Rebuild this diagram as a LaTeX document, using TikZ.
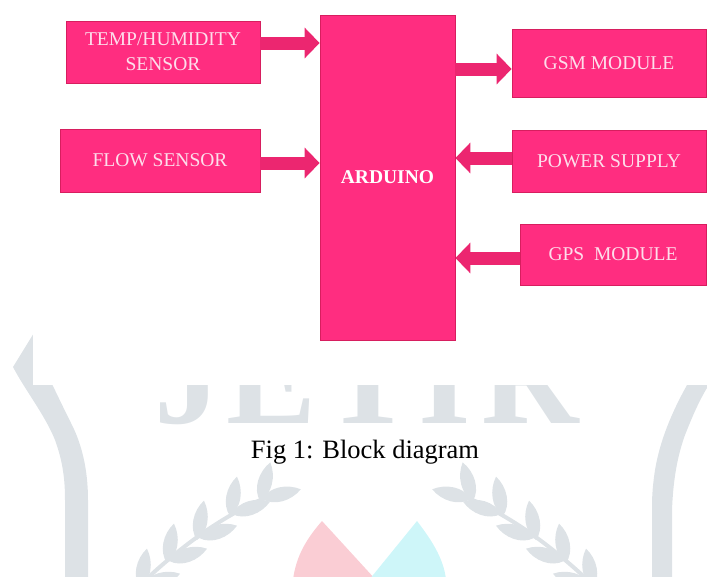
\documentclass[tikz,border=0pt]{standalone}
\usepackage{fontspec}
\setmainfont{Liberation Serif}
\usetikzlibrary{calc,arrows.meta}
\definecolor{pk}{RGB}{255,45,128}
\definecolor{pkd}{RGB}{215,30,95}
\definecolor{pka}{RGB}{236,38,112}
\definecolor{btxt}{RGB}{253,222,235}
\definecolor{wm}{RGB}{221,226,230}
\definecolor{dropp}{RGB}{250,205,212}
\definecolor{dropc}{RGB}{206,246,249}
\newcommand\wmleaf[3]{\fill[wm,shift={(#1,#2)},rotate=#3] (0pt,0pt) .. controls (10pt,10pt) and (28pt,9pt) .. (40pt,0pt) .. controls (28pt,-9pt) and (10pt,-10pt) .. (0pt,0pt);}
\tikzset{
  blk/.style={rectangle, fill=pk, draw=pkd, line width=0.8pt, inner sep=0pt, align=center,
    text=btxt, font=\fontsize{19.5}{25}\selectfont},
  arr/.style={draw=pka, line width=13pt, -{Triangle[width=30pt,length=15pt]}},
  wmletter/.style={anchor=base, text=wm, inner sep=0pt, font=\bfseries\fontsize{135}{135}\selectfont},
  captext/.style={font=\fontsize{26.5}{30}\selectfont, text=black, inner sep=0pt}
}
\begin{document}
\begin{tikzpicture}[x=1pt,y=-1pt]
\useasboundingbox (0,0) rectangle (707,576);
\clip (0,0) rectangle (707,576);
% ---- watermark ----
\fill[wm] (45,315) -- (13,367) .. controls (25,390) and (45,415) .. (55,440) .. controls (63,462) and (65,480) .. (65,500) -- (65,580) -- (88,580) -- (88,500) .. controls (88,470) and (82,445) .. (72,425) .. controls (62,405) and (55,390) .. (50,380) -- (55,315) -- cycle;
\fill[wm] (700,360) -- (687,385) .. controls (672,412) and (660,440) .. (655,470) .. controls (652,490) and (652,500) .. (652,510) -- (652,580) -- (672,580) -- (672,510) .. controls (673,485) and (676,460) .. (685,435) .. controls (693,415) and (700,398) .. (712,380) -- (712,360) -- cycle;
\node[wmletter] (wJ) at (188,423) {J};
\node[wmletter] (wE) at (272,423) {E};
\node[wmletter] (wT) at (369,423) {T};
\node[wmletter] (wI) at (445,423) {I};
\node[wmletter] (wR) at (530,423) {R};
% laurels
\draw[wm, line width=4pt] (130,595) .. controls (180,545) and (225,515) .. (265,498);
\wmleaf{140}{588}{80}\wmleaf{142}{586}{18}
\wmleaf{167}{563}{80}\wmleaf{169}{561}{18}
\wmleaf{197}{540}{80}\wmleaf{199}{538}{18}
\wmleaf{230}{516}{80}\wmleaf{232}{514}{18}
\wmleaf{260}{501}{75}\wmleaf{262}{499}{14}
\draw[wm, line width=4pt] (603,595) .. controls (553,545) and (508,515) .. (468,498);
\wmleaf{593}{588}{100}\wmleaf{591}{586}{162}
\wmleaf{566}{563}{100}\wmleaf{564}{561}{162}
\wmleaf{536}{540}{100}\wmleaf{534}{538}{162}
\wmleaf{503}{516}{100}\wmleaf{501}{514}{162}
\wmleaf{473}{501}{105}\wmleaf{471}{499}{166}
% drops
\fill[dropp] (322,521) .. controls (308,537) and (296,555) .. (293,580) -- (376,580) -- cycle;
\fill[dropc] (417,521) .. controls (430,538) and (444,558) .. (446,580) -- (369,580) -- cycle;
% white area of the diagram image
\fill[white] (33,-5) rectangle (712,385);
% ---- diagram ----
\node[blk, minimum width=194pt, minimum height=62pt] (t) at (163,52) {TEMP/HUMIDITY\\SENSOR};
\node[blk, minimum width=200pt, minimum height=63pt] (f) at (160,160.5) {FLOW SENSOR};
\node[blk, minimum width=135pt, minimum height=325pt, font=\bfseries\fontsize{19.5}{25}\selectfont, text=white] (ard) at (387.5,177.5) {ARDUINO};
\node[blk, minimum width=194pt, minimum height=68pt] (gsm) at (609,63) {GSM MODULE};
\node[blk, minimum width=194pt, minimum height=62pt] (pwr) at (609,161) {POWER SUPPLY};
\node[blk, minimum width=186pt, minimum height=61pt] (gps) at (613,254.5) {GPS\ \ MODULE};
\coordinate (c1) at ($(t.east)+(0,-9)$);
\coordinate (c2) at ($(f.east)+(0,2.5)$);
\coordinate (c3) at ($(gsm.west)+(0,6)$);
\coordinate (c4) at ($(pwr.west)+(0,-3)$);
\coordinate (c5) at ($(gps.west)+(0,3.5)$);
\draw[arr] (c1) -- (c1 -| ard.west);
\draw[arr] (c2) -- (c2 -| ard.west);
\draw[arr] (c3 -| ard.east) -- (c3);
\draw[arr] (c4) -- (c4 -| ard.east);
\draw[arr] (c5) -- (c5 -| ard.east);
% caption
\node[captext] (caption) at (365,452) {Fig 1: Block diagram};
\end{tikzpicture}
\end{document}
